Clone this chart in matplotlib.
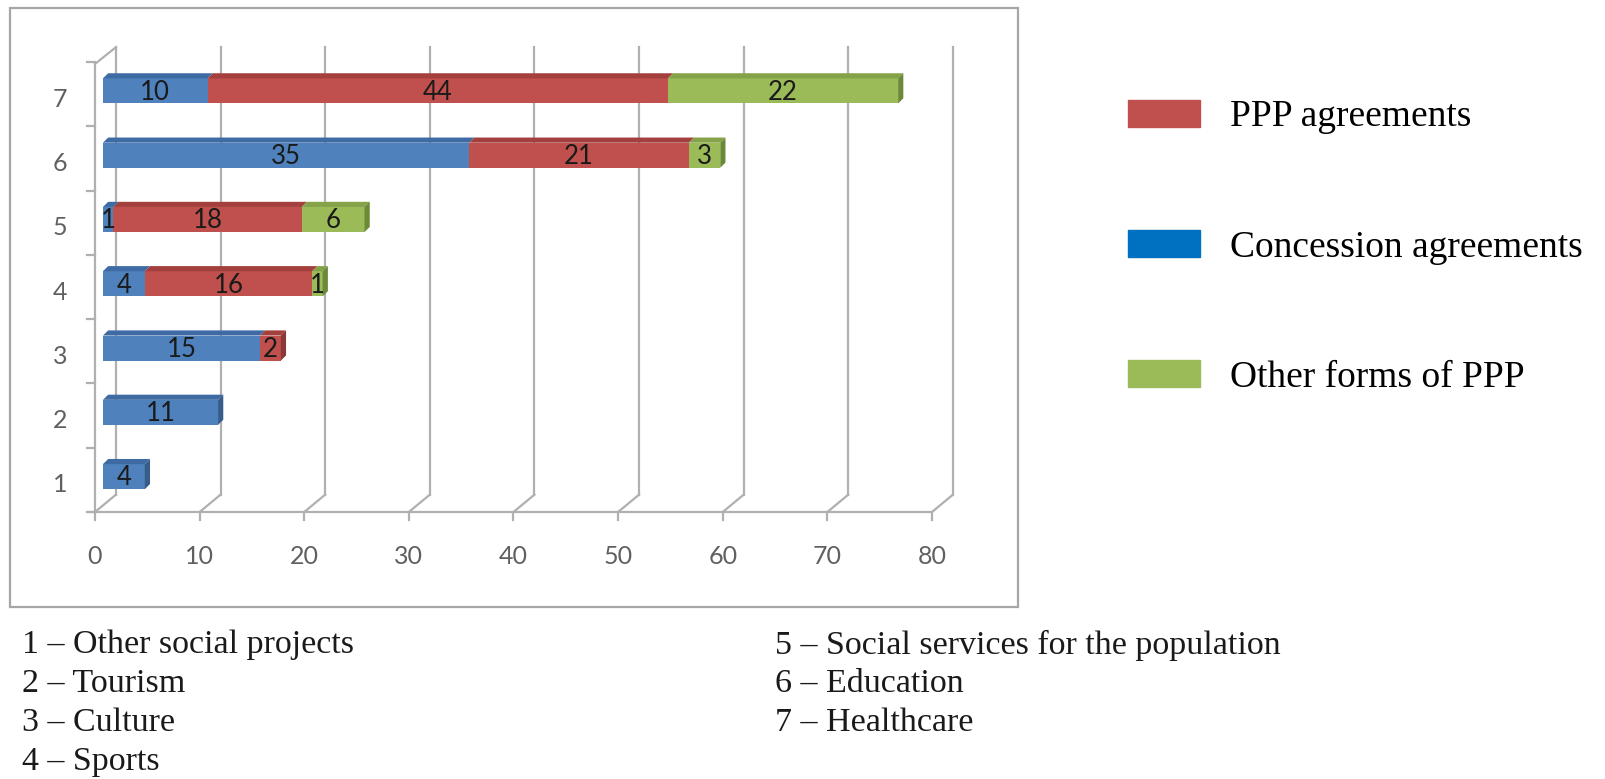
import matplotlib
matplotlib.use('Agg')
import matplotlib.pyplot as plt
from matplotlib.patches import Polygon, Rectangle, Patch

# data (rows 1..7, bottom to top)
categories = ['1', '2', '3', '4', '5', '6', '7']
concession = [4, 11, 15, 4, 1, 35, 10]
ppp = [0, 0, 2, 16, 18, 21, 44]
other = [0, 0, 0, 1, 6, 3, 22]
x_ticks = [0, 10, 20, 30, 40, 50, 60, 70, 80]
captions_left = ['1 \u2013 Other social projects', '2 \u2013 Tourism', '3 \u2013 Culture', '4 \u2013 Sports']
captions_right = ['5 \u2013 Social services for the population', '6 \u2013 Education', '7 \u2013 Healthcare']
legend_labels = ['PPP agreements', 'Concession agreements', 'Other forms of PPP']

W, H = 1606, 779
fig = plt.figure(figsize=(W / 100, H / 100), dpi=100)

# gray frame around the chart area
fig.add_artist(Rectangle((10 / W, 1 - 607 / H), 1008 / W, 599 / H, transform=fig.transFigure,
                         fill=False, edgecolor='#A6A6A6', lw=1.6))

ax = fig.add_axes([95 / W, 1 - 512 / H, 837 / W, 450 / H])
ax.set_xlim(0, 80)
ax.set_ylim(0.5, 7.5)
ax.axis('off')

grid = '#B0B0B0'
depth_x, depth_y = 2.0, 0.27
back_top = 7.73

# back wall gridlines + floor diagonals + front axis
for v in x_ticks:
    ax.plot([v + depth_x, v + depth_x], [0.5 + depth_y, back_top], color=grid, lw=1.6, clip_on=False, zorder=1)
    ax.plot([v, v + depth_x], [0.5, 0.5 + depth_y], color=grid, lw=1.6, clip_on=False, zorder=1)
    ax.plot([v, v], [0.5, 0.38], color=grid, lw=1.6, clip_on=False, zorder=1)
    ax.text(v, -0.2, str(v), ha='center', va='center', fontsize=18, color='#606060', family='Lato')
ax.plot([-0.8, 80], [0.5, 0.5], color=grid, lw=1.6, clip_on=False, zorder=1)

# side wall axis
ax.plot([0, 0], [0.5, 7.47], color=grid, lw=1.6, clip_on=False, zorder=1)
ax.plot([0, depth_x], [7.47, back_top], color=grid, lw=1.6, clip_on=False, zorder=1)
for k in range(8):
    ax.plot([-0.8, 0], [k + 0.5, k + 0.5], color=grid, lw=1.6, clip_on=False, zorder=1)
for k, c in enumerate(categories):
    ax.text(-3.35, k + 1 - 0.08, c, ha='center', va='center', fontsize=18, color='#606060', family='Lato')

# stacked bars with a small 3D look
x0 = 0.76
bar_h = 0.39
ddx, ddy = 0.5, 0.08
series = [
    (concession, '#4F81BD', '#3E6BA3', '#385D8A'),
    (ppp, '#C0504D', '#A33F3C', '#8C3836'),
    (other, '#9BBB59', '#84A248', '#6B8A37'),
]
ypos = [k + 1.05 for k in range(len(categories))]
left = [x0] * len(categories)
last = [None] * len(categories)
for vals, face, top_c, side_c in series:
    ax.barh(ypos, vals, left=left, height=bar_h, color=face, linewidth=0, zorder=3)
    for i, v in enumerate(vals):
        if v == 0:
            continue
        l, y = left[i], ypos[i]
        top = y + bar_h / 2
        ax.add_patch(Polygon([(l, top), (l + v, top), (l + v + ddx, top + ddy), (l + ddx, top + ddy)],
                             closed=True, color=top_c, lw=0, zorder=3))
        ax.text(l + v / 2, y - 0.02, str(v), ha='center', va='center', fontsize=18.5, color='#1A1A1A',
                family='Lato', zorder=5)
        last[i] = (l + v, side_c)
    left = [a + b for a, b in zip(left, vals)]

for i, item in enumerate(last):
    r, side_c = item
    y = ypos[i]
    bot, top = y - bar_h / 2, y + bar_h / 2
    ax.add_patch(Polygon([(r, bot), (r, top), (r + ddx, top + ddy), (r + ddx, bot + ddy)],
                         closed=True, color=side_c, lw=0, zorder=4))

# legend on the right
handles = [Patch(color='#C0504D', label=legend_labels[0]),
           Patch(color='#0070C0', label=legend_labels[1]),
           Patch(color='#9BBB59', label=legend_labels[2])]
fig.legend(handles=handles, loc='upper left', bbox_to_anchor=(1128 / W, 1 - 100 / H), frameon=False,
           prop={'family': 'Liberation Serif', 'size': 27}, handlelength=1.92, handleheight=0.72,
           handletextpad=0.8, labelspacing=2.55, borderpad=0, borderaxespad=0)

# category captions below the chart
rows_y = [645, 684, 723, 762]
for t, y in zip(captions_left, rows_y):
    fig.text(22 / W, 1 - y / H, t, ha='left', va='center', fontsize=24.5, family='Liberation Serif', color='#1A1A1A')
for t, y in zip(captions_right, rows_y):
    fig.text(775 / W, 1 - y / H, t, ha='left', va='center', fontsize=24.5, family='Liberation Serif', color='#1A1A1A')

fig.savefig('out.png', dpi=100)
